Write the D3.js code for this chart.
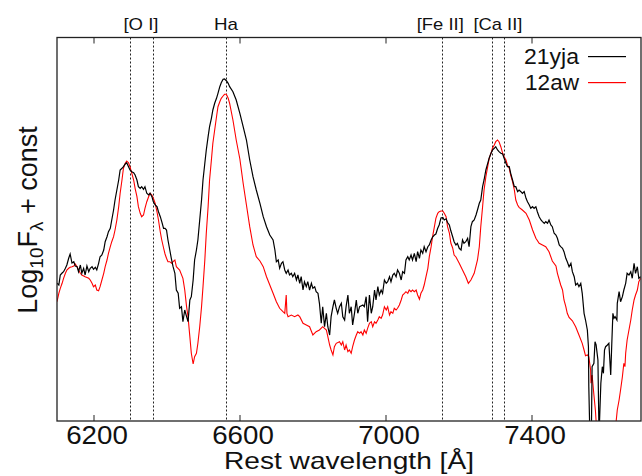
<!DOCTYPE html>
<html>
<head>
<meta charset="utf-8">
<script src="https://cdn.jsdelivr.net/npm/d3@7"></script>
<style>
  body { margin: 0; background: #fff; }
  svg { display: block; }
  text { font-family: "Liberation Sans", Arial, sans-serif; fill: #111; }
</style>
</head>
<body>
<svg id="chart" width="642" height="476"></svg>
<script>
// x ticks and identified lines
var xTicks = [6200, 6600, 7000, 7400];
var lineWaves = [6300, 6363, 6563, 7155, 7291, 7324];
var lineNames = ["[O I]", "Ha", "[Fe II]", "[Ca II]"];
var nameWaves = [6330, 6563, 7150, 7308];
var legendNames = ["21yja", "12aw"];
var legendColors = ["#000000", "#ff0000"];

// SN 2021yja, [wavelength, log flux + const]
var spec21yja = [[6100,1.377],[6105,1.36],[6109,1.46],[6114,1.48],[6118,1.493],[6123,1.527],[6127,1.56],[6132,1.627],[6136,1.67],[6141,1.58],[6146,1.593],[6150,1.55],[6155,1.543],[6159,1.493],[6164,1.56],[6168,1.477],[6173,1.527],[6177,1.46],[6182,1.55],[6187,1.493],[6191,1.527],[6196,1.543],[6200,1.517],[6205,1.537],[6209,1.51],[6214,1.577],[6218,1.643],[6223,1.66],[6228,1.71],[6232,1.793],[6237,1.843],[6241,1.893],[6246,1.927],[6250,2.01],[6255,2.11],[6259,2.21],[6264,2.31],[6269,2.41],[6273,2.51],[6278,2.527],[6282,2.543],[6287,2.57],[6291,2.583],[6296,2.543],[6300,2.51],[6305,2.493],[6310,2.483],[6314,2.46],[6319,2.41],[6323,2.343],[6328,2.327],[6332,2.343],[6337,2.317],[6341,2.343],[6346,2.277],[6351,2.26],[6355,2.277],[6360,2.243],[6364,2.193],[6369,2.16],[6374,2.143],[6378,2.093],[6383,2.043],[6387,1.993],[6392,1.927],[6396,1.927],[6400,1.91],[6404,1.81],[6409,1.71],[6414,1.61],[6418,1.543],[6423,1.477],[6427,1.31],[6432,1.277],[6436,1.127],[6441,1.143],[6445,0.993],[6450,1.11],[6455,1.043],[6459,0.993],[6464,1.21],[6468,1.243],[6473,1.41],[6477,1.61],[6482,1.71],[6486,1.81],[6491,2.01],[6496,2.21],[6500,2.41],[6505,2.577],[6509,2.71],[6514,2.843],[6518,2.943],[6523,3.027],[6527,3.11],[6532,3.177],[6537,3.227],[6541,3.277],[6546,3.343],[6550,3.383],[6555,3.417],[6559,3.42],[6564,3.403],[6569,3.377],[6573,3.343],[6582,3.293],[6591,3.21],[6601,3.077],[6610,2.943],[6619,2.81],[6628,2.61],[6637,2.443],[6646,2.31],[6656,2.177],[6665,2.043],[6674,1.943],[6683,1.86],[6692,1.81],[6697,1.71],[6701,1.593],[6706,1.61],[6710,1.527],[6715,1.577],[6719,1.593],[6724,1.51],[6728,1.477],[6733,1.51],[6737,1.46],[6742,1.477],[6746,1.443],[6751,1.477],[6756,1.41],[6760,1.46],[6765,1.377],[6769,1.443],[6774,1.31],[6778,1.393],[6783,1.343],[6787,1.393],[6792,1.31],[6797,1.377],[6801,1.327],[6806,1.343],[6810,1.293],[6815,1.277],[6819,1.177],[6824,0.977],[6828,1.143],[6833,0.943],[6838,1.077],[6842,0.943],[6847,0.86],[6851,1.043],[6856,1.143],[6860,1.21],[6865,1.127],[6869,1.077],[6874,1.143],[6879,1.177],[6883,1.043],[6888,1.01],[6892,1.143],[6897,1.26],[6901,1.077],[6906,1.143],[6910,0.96],[6915,1.077],[6920,1.21],[6924,1.077],[6929,1.143],[6938,1.16],[6942,1.143],[6947,1.243],[6951,0.993],[6956,1.26],[6961,1.077],[6965,1.143],[6970,1.31],[6974,1.21],[6979,1.343],[6983,1.26],[6988,1.31],[6992,1.277],[6997,1.41],[7002,1.377],[7006,1.393],[7011,1.443],[7015,1.393],[7020,1.46],[7024,1.477],[7029,1.443],[7033,1.51],[7038,1.477],[7043,1.41],[7047,1.493],[7052,1.477],[7056,1.61],[7061,1.643],[7065,1.61],[7070,1.66],[7074,1.61],[7079,1.677],[7084,1.593],[7088,1.693],[7093,1.627],[7097,1.71],[7102,1.677],[7106,1.743],[7111,1.693],[7116,1.743],[7120,1.76],[7125,1.81],[7129,1.84],[7134,1.86],[7138,1.87],[7143,1.927],[7147,1.96],[7152,2.03],[7157,2.035],[7161,2.01],[7166,2.022],[7170,1.985],[7175,1.96],[7179,1.902],[7184,1.843],[7188,1.793],[7193,1.76],[7197,1.777],[7202,1.727],[7207,1.71],[7211,1.81],[7215,1.777],[7220,1.793],[7225,1.827],[7229,1.743],[7234,1.943],[7238,1.993],[7243,2.01],[7248,2.06],[7252,2.11],[7257,2.177],[7261,2.21],[7266,2.343],[7270,2.41],[7275,2.51],[7280,2.577],[7284,2.627],[7289,2.677],[7293,2.71],[7298,2.727],[7302,2.743],[7307,2.71],[7311,2.693],[7316,2.677],[7321,2.67],[7325,2.627],[7330,2.577],[7334,2.543],[7339,2.543],[7343,2.477],[7348,2.41],[7353,2.343],[7357,2.343],[7362,2.293],[7366,2.31],[7371,2.293],[7375,2.277],[7380,2.293],[7385,2.227],[7389,2.193],[7394,2.16],[7398,2.127],[7403,2.143],[7407,2.127],[7412,2.143],[7416,2.093],[7421,2.043],[7426,2.01],[7430,1.993],[7435,1.977],[7439,1.993],[7444,1.977],[7448,2.01],[7453,1.96],[7457,1.943],[7462,1.877],[7467,1.86],[7471,1.827],[7476,1.76],[7480,1.743],[7485,1.727],[7489,1.693],[7494,1.627],[7498,1.593],[7503,1.543],[7508,1.577],[7512,1.493],[7517,1.443],[7521,1.36],[7526,1.377],[7530,1.343],[7535,1.377],[7539,1.277],[7544,1.077],[7548,1.01],[7553,0.91],[7556,0.743],[7557,0.343],[7560,-0.15],[7564,-0.15],[7566,0.543],[7571,0.577],[7574,0.793],[7577,0.76],[7582,0.61],[7585,-0.15],[7590,0.377],[7594,0.543],[7597,0.477],[7600,0.71],[7603,0.743],[7608,0.76],[7612,0.777],[7617,0.46],[7620,0.777],[7623,1.077],[7626,1.027],[7629,1.043],[7634,1.01],[7635,1.177],[7640,1.293],[7644,1.193],[7649,1.243],[7653,1.31],[7658,1.377],[7662,1.477],[7667,1.46],[7672,1.493],[7676,1.427],[7681,1.577],[7685,1.477],[7690,1.543],[7694,1.427],[7699,1.443]];

// SN 2012aw
var spec12aw = [[6100,1.193],[6105,1.277],[6109,1.327],[6114,1.377],[6118,1.427],[6123,1.477],[6127,1.51],[6132,1.527],[6136,1.537],[6141,1.543],[6146,1.55],[6150,1.57],[6155,1.543],[6159,1.51],[6164,1.477],[6168,1.46],[6177,1.443],[6187,1.427],[6191,1.41],[6196,1.377],[6200,1.343],[6205,1.36],[6209,1.31],[6214,1.303],[6218,1.343],[6223,1.41],[6228,1.477],[6232,1.543],[6237,1.61],[6241,1.677],[6246,1.743],[6250,1.793],[6255,1.843],[6259,1.91],[6264,2.01],[6269,2.143],[6273,2.277],[6278,2.41],[6282,2.527],[6287,2.577],[6291,2.6],[6296,2.583],[6300,2.543],[6305,2.477],[6310,2.41],[6314,2.327],[6319,2.243],[6323,2.143],[6328,2.077],[6332,2.043],[6337,2.06],[6341,2.127],[6346,2.193],[6351,2.243],[6355,2.277],[6360,2.26],[6364,2.227],[6369,2.177],[6374,2.09],[6378,2.01],[6383,1.89],[6387,1.81],[6392,1.73],[6396,1.67],[6400,1.627],[6404,1.593],[6409,1.593],[6414,1.577],[6418,1.593],[6423,1.61],[6427,1.543],[6436,1.51],[6445,1.427],[6450,1.31],[6455,1.143],[6459,1.043],[6464,0.843],[6468,0.677],[6473,0.57],[6477,0.643],[6482,0.677],[6486,0.777],[6491,0.943],[6496,1.143],[6500,1.343],[6505,1.61],[6509,1.877],[6514,2.143],[6518,2.41],[6523,2.61],[6527,2.777],[6532,2.91],[6537,3.043],[6541,3.143],[6546,3.193],[6550,3.227],[6555,3.25],[6559,3.267],[6564,3.267],[6569,3.227],[6573,3.177],[6582,3.01],[6591,2.81],[6601,2.62],[6610,2.377],[6619,2.16],[6628,1.943],[6637,1.76],[6646,1.643],[6656,1.6],[6665,1.543],[6674,1.443],[6683,1.36],[6692,1.277],[6701,1.193],[6710,1.127],[6719,1.093],[6724,1.077],[6728,1.26],[6730,1.077],[6733,1.043],[6742,1.06],[6751,1.043],[6760,1.06],[6765,1.043],[6774,0.977],[6783,0.96],[6792,0.943],[6801,0.86],[6810,0.893],[6819,0.91],[6828,0.943],[6838,0.91],[6842,0.843],[6847,0.76],[6851,0.71],[6856,0.66],[6860,0.743],[6865,0.777],[6874,0.793],[6879,0.76],[6883,0.793],[6888,0.71],[6892,0.76],[6897,0.693],[6901,0.71],[6906,0.677],[6910,0.743],[6915,0.81],[6920,0.86],[6924,0.893],[6929,0.877],[6933,0.893],[6938,0.86],[6942,0.91],[6947,0.877],[6951,0.927],[6956,0.977],[6961,0.993],[6965,0.943],[6970,0.993],[6974,0.977],[6979,1.01],[6983,1.043],[6988,1.027],[6992,1.06],[6997,1.143],[7002,1.11],[7006,1.143],[7011,1.06],[7015,1.093],[7020,1.077],[7024,1.127],[7029,1.11],[7033,1.127],[7038,1.16],[7043,1.21],[7047,1.26],[7052,1.277],[7056,1.293],[7061,1.277],[7065,1.31],[7070,1.293],[7074,1.31],[7079,1.293],[7084,1.31],[7088,1.26],[7093,1.217],[7097,1.277],[7102,1.31],[7106,1.36],[7111,1.443],[7116,1.527],[7120,1.643],[7125,1.743],[7129,1.843],[7134,1.943],[7138,2.027],[7143,2.077],[7147,2.093],[7152,2.1],[7157,2.1],[7161,2.077],[7166,2.043],[7170,1.943],[7175,1.88],[7179,1.78],[7184,1.73],[7188,1.66],[7193,1.64],[7202,1.577],[7211,1.51],[7220,1.443],[7227,1.377],[7234,1.41],[7243,1.477],[7252,1.61],[7257,1.743],[7261,1.943],[7266,2.143],[7270,2.31],[7275,2.443],[7280,2.543],[7284,2.627],[7289,2.677],[7293,2.727],[7298,2.76],[7302,2.793],[7307,2.81],[7311,2.793],[7316,2.743],[7321,2.677],[7325,2.643],[7330,2.61],[7334,2.56],[7339,2.527],[7343,2.46],[7348,2.393],[7353,2.31],[7357,2.21],[7362,2.16],[7366,2.137],[7375,2.11],[7385,2.077],[7394,2.01],[7403,1.91],[7412,1.827],[7421,1.777],[7430,1.76],[7439,1.743],[7448,1.693],[7457,1.6],[7467,1.55],[7471,1.477],[7480,1.36],[7485,1.31],[7489,1.21],[7494,1.143],[7498,1.077],[7503,1.035],[7512,1.002],[7521,0.943],[7530,0.86],[7539,0.777],[7544,0.71],[7548,0.652],[7553,0.66],[7557,0.643],[7562,0.51],[7563,0.377],[7566,0.46],[7571,0.26],[7575,0.11],[7577,0],[7590,-0.3],[7610,-0.3],[7632,0],[7635,0.11],[7640,0.21],[7644,0.31],[7649,0.443],[7653,0.577],[7656,0.543],[7658,0.677],[7662,0.81],[7667,0.91],[7672,1.01],[7676,1.11],[7681,1.21],[7685,1.26],[7690,1.31],[7694,1.393],[7699,1.427]];

var svg = d3.select("#chart");
var plotL = 57, plotR = 641, plotT = 37.5, plotB = 421;

var x = d3.scaleLinear().domain([6100, 7700]).range([plotL, plotR]);
var y = d3.scaleLinear().domain([0, 3.835]).range([plotB, plotT]);

svg.append("clipPath").attr("id", "plotclip")
  .append("rect").attr("x", plotL).attr("y", plotT)
  .attr("width", plotR - plotL).attr("height", plotB - plotT);

// dotted line markers
svg.append("g").selectAll("line").data(lineWaves).enter().append("line")
  .attr("x1", function(d){ return Math.round(x(d)) + 0.5; })
  .attr("x2", function(d){ return Math.round(x(d)) + 0.5; })
  .attr("y1", plotT).attr("y2", plotB)
  .attr("stroke", "#222").attr("stroke-width", 1)
  .attr("stroke-dasharray", "2,2");

var line = d3.line()
  .x(function(d){ return x(d[0]); })
  .y(function(d){ return y(d[1]); });

var plot = svg.append("g").attr("clip-path", "url(#plotclip)");
plot.append("path").datum(spec12aw).attr("d", line)
  .attr("fill", "none").attr("stroke", "#f00").attr("stroke-width", 1.1);
plot.append("path").datum(spec21yja).attr("d", line)
  .attr("fill", "none").attr("stroke", "#000").attr("stroke-width", 1.2);

// axes: inward ticks top and bottom, no y ticks
var xAxis = d3.axisBottom(x).tickValues(xTicks).tickFormat(d3.format("d"))
  .tickSize(-6).tickPadding(6).tickSizeOuter(0);
var gx = svg.append("g").attr("transform", "translate(0," + plotB + ")").call(xAxis);
gx.select(".domain").remove();
gx.selectAll(".tick line").attr("stroke", "#222");
gx.selectAll(".tick text")
  .attr("font-size", 25).attr("font-family", "Liberation Sans, Arial, sans-serif")
  .attr("fill", "#111").attr("dx", 3).attr("y", 23.3).attr("dy", 0)
  .attr("textLength", 61.6).attr("lengthAdjust", "spacingAndGlyphs");

var gxt = svg.append("g").attr("transform", "translate(0," + plotT + ")")
  .call(d3.axisTop(x).tickValues(xTicks).tickSize(-6).tickFormat("").tickSizeOuter(0));
gxt.select(".domain").remove();
gxt.selectAll(".tick line").attr("stroke", "#222");

svg.append("rect").attr("x", plotL).attr("y", plotT)
  .attr("width", plotR - plotL).attr("height", plotB - plotT)
  .attr("fill", "none").attr("stroke", "#222").attr("stroke-width", 1.3);

// line names above the frame
var nameWidths = [35, 24, 47, 49];
svg.append("g").selectAll("text").data(lineNames).enter().append("text")
  .attr("x", function(d, i){ return x(nameWaves[i]); })
  .attr("y", 30)
  .attr("text-anchor", "middle")
  .attr("font-size", 17)
  .attr("textLength", function(d, i){ return nameWidths[i]; })
  .attr("lengthAdjust", "spacingAndGlyphs")
  .text(function(d){ return d; });

// axis titles
svg.append("text").attr("x", 349).attr("y", 469)
  .attr("text-anchor", "middle").attr("font-size", 24)
  .attr("textLength", 250).attr("lengthAdjust", "spacingAndGlyphs")
  .text("Rest wavelength [Å]");

var yl = svg.append("text")
  .attr("transform", "translate(37,220) rotate(-90)")
  .attr("text-anchor", "middle").attr("font-size", 27);
yl.append("tspan").text("Log");
yl.append("tspan").attr("font-size", 19).attr("dy", 6).text("10");
yl.append("tspan").attr("dy", -6).text("F");
yl.append("tspan").attr("font-size", 19).attr("dy", 6).text("λ");
yl.append("tspan").attr("dy", -6).text(" + const");

// legend (rect swatches so the colour stays crisp)
var lg = svg.append("g");
legendNames.forEach(function(name, i){
  var yy = 64 + i * 26;
  lg.append("text").attr("x", 579).attr("y", yy)
    .attr("text-anchor", "end").attr("font-size", 22)
    .attr("textLength", i === 0 ? 55 : 54).attr("lengthAdjust", "spacingAndGlyphs")
    .text(name);
  lg.append("rect").attr("x", 588).attr("y", yy - 8)
    .attr("width", 38).attr("height", 1.2)
    .attr("fill", legendColors[i]);
});
</script>
</body>
</html>
